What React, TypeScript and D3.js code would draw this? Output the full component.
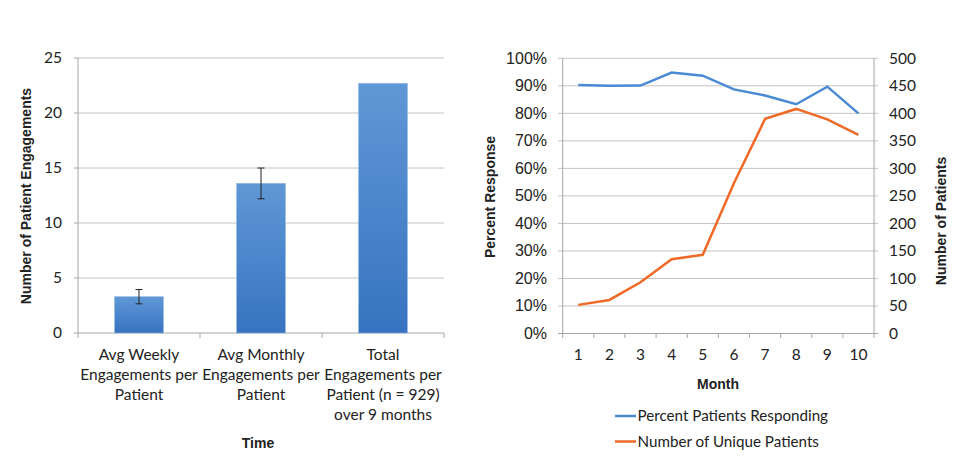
import React from 'react';
import * as d3 from 'd3';

// left chart data
const barCategories = ['weekly', 'monthly', 'total'];
const barLabels = [
  ['Avg Weekly', 'Engagements per', 'Patient'],
  ['Avg Monthly', 'Engagements per', 'Patient'],
  ['Total', 'Engagements per', 'Patient (n = 929)', 'over 9 months'],
];
const barValues = [3.3, 13.6, 22.7];
const barErrors = [0.65, 1.4, null];
const barTicks = [0, 5, 10, 15, 20, 25];

// right chart data
const months = ['1', '2', '3', '4', '5', '6', '7', '8', '9', '10'];
const percentResponding = [0.903, 0.9, 0.901, 0.948, 0.937, 0.887, 0.865, 0.833, 0.897, 0.8];
const uniquePatients = [52, 61, 93, 135, 143, 273, 390, 408, 389, 361];
const pctTicks = [0, 0.1, 0.2, 0.3, 0.4, 0.5, 0.6, 0.7, 0.8, 0.9, 1];
const countTicks = [0, 50, 100, 150, 200, 250, 300, 350, 400, 450, 500];

const humanist = 'Lato, "Open Sans", sans-serif';
const helv = '"Liberation Sans", Arial, sans-serif';
const axisColor = '#a6a6a6';
const gridColor = '#c4c4c4';
const blue = '#4a8ad4';
const orange = '#ef6a27';

const App: React.FC = () => {
  // ---- left bar chart scales
  const bx = d3.scaleBand<string>().domain(barCategories).range([78, 444]).paddingInner(0.6).paddingOuter(0.3);
  const by = d3.scaleLinear().domain([0, 25]).range([333, 58]);
  const gap = (bx.step() - bx.bandwidth()) / 2;
  const bounds = [...barCategories.map((c) => (bx(c) ?? 0) - gap), 444];

  // ---- right line chart scales
  const lx = d3.scaleBand<string>().domain(months).range([562.7, 874]).padding(0);
  const ly = d3.scaleLinear().domain([0, 1]).range([333.5, 58.3]);
  const ry = d3.scaleLinear().domain([0, 500]).range([333.5, 58.3]);
  const cx = (m: string) => (lx(m) ?? 0) + lx.bandwidth() / 2;
  const pctLine = d3.line<number>().x((_, i) => cx(months[i])).y((d) => ly(d));
  const cntLine = d3.line<number>().x((_, i) => cx(months[i])).y((d) => ry(d));
  const lxBounds = [...months.map((m) => lx(m) ?? 0), 874];

  return (
    <svg width={971} height={468} style={{ position: 'absolute', left: 0, top: 0, background: '#fff' }}>
      <defs>
        <linearGradient id="barGrad" x1="0" y1="0" x2="0" y2="1">
          <stop offset="0%" stopColor="#6098d6" />
          <stop offset="100%" stopColor="#3773c0" />
        </linearGradient>
      </defs>

      {/* ===== LEFT CHART ===== */}
      <g>
        {barTicks.map((t) => (
          <line key={t} x1={78} x2={444} y1={by(t)} y2={by(t)} stroke={t === 0 ? axisColor : gridColor} strokeWidth={1} />
        ))}
        {barTicks.map((t) => (
          <line key={'tk' + t} x1={74} x2={78} y1={by(t)} y2={by(t)} stroke={axisColor} />
        ))}
        <line x1={78} x2={78} y1={58} y2={333} stroke={axisColor} />
        {bounds.map((b, i) => (
          <line key={'b' + i} x1={b} x2={b} y1={333} y2={338} stroke={axisColor} />
        ))}
        {barTicks.map((t) => (
          <text key={'l' + t} x={62} y={by(t) + 5} textAnchor="end" fontFamily={humanist} fontSize={15.5} fill="#222">
            {t}
          </text>
        ))}
        {barCategories.map((c, i) => (
          <rect
            key={c}
            x={bx(c)}
            y={by(barValues[i])}
            width={bx.bandwidth()}
            height={by(0) - by(barValues[i])}
            fill="url(#barGrad)"
            stroke="#8fb5e3"
            strokeWidth={0.6}
          />
        ))}
        {barCategories.map((c, i) => {
          const e = barErrors[i];
          if (e == null) return null;
          const mx = (bx(c) ?? 0) + bx.bandwidth() / 2;
          return (
            <g key={'e' + c} stroke="#222" strokeWidth={1}>
              <line x1={mx} x2={mx} y1={by(barValues[i] + e)} y2={by(barValues[i] - e)} />
              <line x1={mx - 3.5} x2={mx + 3.5} y1={by(barValues[i] + e)} y2={by(barValues[i] + e)} />
              <line x1={mx - 3.5} x2={mx + 3.5} y1={by(barValues[i] - e)} y2={by(barValues[i] - e)} />
            </g>
          );
        })}
        {barCategories.map((c, i) => (
          <text key={'c' + c} textAnchor="middle" fontFamily={humanist} fontSize={15.5} fill="#222">
            {barLabels[i].map((ln, j) => (
              <tspan key={j} x={(bx(c) ?? 0) + bx.bandwidth() / 2} y={359.5 + j * 20}>
                {ln}
              </tspan>
            ))}
          </text>
        ))}
        <text x={258} y={448} textAnchor="middle" fontFamily={helv} fontWeight="bold" fontSize={14} fill="#222">
          Time
        </text>
        <text
          transform="translate(31,196) rotate(-90)"
          textAnchor="middle"
          fontFamily={helv}
          fontWeight="bold"
          fontSize={14}
          fill="#222"
        >
          Number of Patient Engagements
        </text>
      </g>

      {/* ===== RIGHT CHART ===== */}
      <g>
        {pctTicks.map((t) => (
          <line key={'g' + t} x1={558} x2={878} y1={ly(t)} y2={ly(t)} stroke={t === 0 ? axisColor : gridColor} />
        ))}
        <line x1={562.7} x2={562.7} y1={58.3} y2={333.5} stroke={axisColor} />
        <line x1={874} x2={874} y1={58.3} y2={333.5} stroke={axisColor} />
        {lxBounds.map((b, i) => (
          <line key={'lb' + i} x1={b} x2={b} y1={333.5} y2={338} stroke={axisColor} />
        ))}
        {pctTicks.map((t) => (
          <text key={'pl' + t} x={547} y={ly(t) + 5.5} textAnchor="end" fontFamily={helv} fontSize={16} fill="#222">
            {d3.format('.0%')(t)}
          </text>
        ))}
        {countTicks.map((t) => (
          <text key={'cl' + t} x={889} y={ry(t) + 5.5} textAnchor="start" fontFamily={humanist} fontSize={15.5} fill="#222">
            {t}
          </text>
        ))}
        {months.map((m) => (
          <text key={'m' + m} x={cx(m)} y={360} textAnchor="middle" fontFamily={humanist} fontSize={15.5} fill="#222">
            {m}
          </text>
        ))}
        <path d={pctLine(percentResponding) ?? ''} fill="none" stroke={blue} strokeWidth={2.5} />
        <path d={cntLine(uniquePatients) ?? ''} fill="none" stroke={orange} strokeWidth={2.5} />
        <text x={718} y={389} textAnchor="middle" fontFamily={helv} fontWeight="bold" fontSize={14} fill="#222">
          Month
        </text>
        <text
          transform="translate(495,197) rotate(-90)"
          textAnchor="middle"
          fontFamily={helv}
          fontWeight="bold"
          fontSize={14}
          fill="#222"
        >
          Percent Response
        </text>
        <text
          transform="translate(946,221) rotate(-90)"
          textAnchor="middle"
          fontFamily={helv}
          fontWeight="bold"
          fontSize={14}
          fill="#222"
        >
          Number of Patients
        </text>
        {/* legend */}
        <line x1={615} x2={636} y1={416} y2={416} stroke={blue} strokeWidth={2.5} />
        <text x={637.5} y={421} fontFamily={humanist} fontSize={15.2} fill="#222">
          Percent Patients Responding
        </text>
        <line x1={615} x2={636} y1={441.5} y2={441.5} stroke={orange} strokeWidth={2.5} />
        <text x={637.5} y={446.5} fontFamily={humanist} fontSize={15.2} fill="#222">
          Number of Unique Patients
        </text>
      </g>
    </svg>
  );
};

export default App;
